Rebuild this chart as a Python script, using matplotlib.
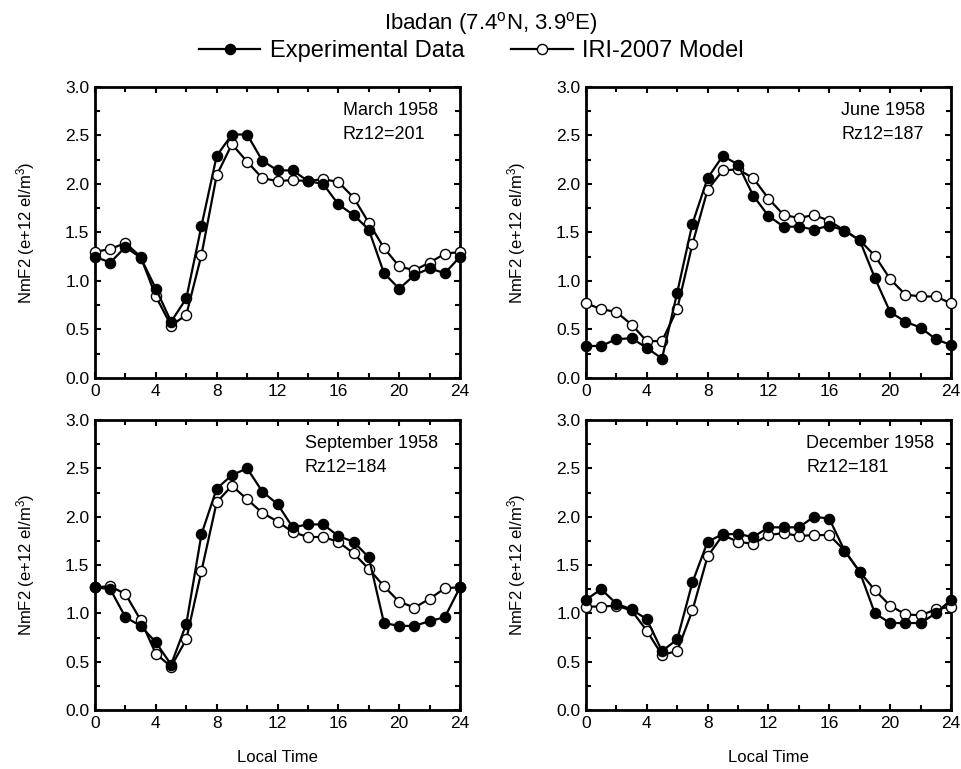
import matplotlib
matplotlib.use("Agg")
import matplotlib.pyplot as plt
from matplotlib.ticker import MultipleLocator
import numpy as np

plt.rcParams['font.family'] = ['Liberation Sans', 'DejaVu Sans']
plt.rcParams['mathtext.fontset'] = 'custom'
plt.rcParams['mathtext.rm'] = 'Liberation Sans'
plt.rcParams['mathtext.it'] = 'Liberation Sans:italic'

hours = np.arange(25)

# NmF2 (e+12 el/m^3)
march_exp = [1.25, 1.19, 1.35, 1.24, 0.92, 0.58, 0.82, 1.57, 2.29, 2.51, 2.51, 2.24, 2.14,
             2.14, 2.03, 2.00, 1.79, 1.68, 1.53, 1.08, 0.92, 1.06, 1.13, 1.08, 1.25]
march_iri = [1.30, 1.33, 1.39, 1.25, 0.84, 0.54, 0.65, 1.27, 2.09, 2.41, 2.23, 2.06, 2.03,
             2.04, 2.03, 2.05, 2.02, 1.86, 1.60, 1.34, 1.15, 1.11, 1.19, 1.28, 1.30]
june_exp = [0.33, 0.33, 0.40, 0.41, 0.31, 0.20, 0.88, 1.59, 2.06, 2.29, 2.20, 1.88, 1.67,
            1.56, 1.56, 1.53, 1.57, 1.52, 1.42, 1.03, 0.68, 0.58, 0.52, 0.40, 0.34]
june_iri = [0.77, 0.71, 0.68, 0.55, 0.38, 0.38, 0.71, 1.38, 1.94, 2.14, 2.15, 2.06, 1.85,
            1.68, 1.65, 1.68, 1.62, 1.52, 1.42, 1.26, 1.02, 0.86, 0.84, 0.84, 0.77]
sept_exp = [1.27, 1.25, 0.96, 0.87, 0.70, 0.47, 0.89, 1.82, 2.29, 2.43, 2.50, 2.26, 2.13,
            1.89, 1.92, 1.92, 1.80, 1.74, 1.58, 0.90, 0.87, 0.87, 0.92, 0.96, 1.27]
sept_iri = [1.27, 1.28, 1.20, 0.93, 0.58, 0.45, 0.73, 1.44, 2.15, 2.32, 2.18, 2.04, 1.95,
            1.84, 1.79, 1.79, 1.74, 1.62, 1.46, 1.28, 1.12, 1.06, 1.15, 1.26, 1.27]
dec_exp = [1.14, 1.25, 1.10, 1.04, 0.94, 0.61, 0.73, 1.32, 1.74, 1.82, 1.82, 1.79, 1.89,
           1.89, 1.89, 2.00, 1.98, 1.65, 1.43, 1.00, 0.90, 0.90, 0.90, 1.00, 1.14]
dec_iri = [1.07, 1.07, 1.08, 1.03, 0.82, 0.57, 0.61, 1.03, 1.59, 1.81, 1.74, 1.72, 1.81,
           1.83, 1.80, 1.81, 1.81, 1.65, 1.43, 1.24, 1.08, 0.99, 0.98, 1.04, 1.07]

months = ["March 1958", "June 1958", "September 1958", "December 1958"]
rz12 = ["Rz12=201", "Rz12=187", "Rz12=184", "Rz12=181"]
exp_data = [march_exp, june_exp, sept_exp, dec_exp]
iri_data = [march_iri, june_iri, sept_iri, dec_iri]
label_x = [16.3, 16.8, 13.8, 14.5]   # where the month text starts (hours)

fig = plt.figure(figsize=(9.62, 7.69), dpi=100)

# axes boxes in figure fractions
boxes = [(0.0988, 0.5085, 0.3794, 0.3784), (0.6091, 0.5085, 0.3794, 0.3784),
         (0.0988, 0.0767, 0.3794, 0.3771), (0.6091, 0.0767, 0.3794, 0.3771)]

for i in range(4):
    ax = fig.add_axes(boxes[i])
    ax.plot(hours, iri_data[i], '-o', color='black', mfc='white', mec='black',
            ms=7.3, lw=1.6, mew=1.0, clip_on=False, zorder=3, label='IRI-2007 Model')
    ax.plot(hours, exp_data[i], '-o', color='black', mfc='black', mec='black',
            ms=7.3, lw=1.6, clip_on=False, zorder=4, label='Experimental Data')
    ax.set_xlim(0, 24)
    ax.set_ylim(0, 3)
    ax.xaxis.set_major_locator(MultipleLocator(4))
    ax.xaxis.set_minor_locator(MultipleLocator(2))
    ax.yaxis.set_major_locator(MultipleLocator(0.5))
    ax.yaxis.set_minor_locator(MultipleLocator(0.25))
    ax.yaxis.set_major_formatter(matplotlib.ticker.FormatStrFormatter('%.1f'))
    ax.tick_params(which='both', direction='in', top=True, right=True, width=1.5,
                   labelsize=12.5, pad=4)
    ax.tick_params(which='major', length=4.5)
    ax.tick_params(which='minor', length=3.5)
    for s in ax.spines.values():
        s.set_linewidth(2)
    ax.set_ylabel(r'NmF2 (e+12 el/m$^3$)', fontsize=12, labelpad=20)
    if i >= 2:
        ax.set_xlabel('Local Time', fontsize=12, labelpad=14)
    ax.text(label_x[i], 2.76, months[i], fontsize=13, va='center', ha='left')
    ax.text(label_x[i], 2.51, rz12[i], fontsize=13, va='center', ha='left')
    if i == 0:
        h_iri, h_exp = ax.get_lines()

fig.text(0.51, 1 - 24 / 769, r'Ibadan (7.4$^\mathrm{o}$N, 3.9$^\mathrm{o}$E)',
         fontsize=16, ha='center', va='center')
fig.legend([h_exp, h_iri], ['Experimental Data', 'IRI-2007 Model'], ncol=2,
           loc='center', bbox_to_anchor=(0.49, 1 - 51 / 769), frameon=False,
           fontsize=17, handlelength=2.6, columnspacing=2.0, handletextpad=0.4,
           borderpad=0)

fig.savefig('out.png', dpi=100)
